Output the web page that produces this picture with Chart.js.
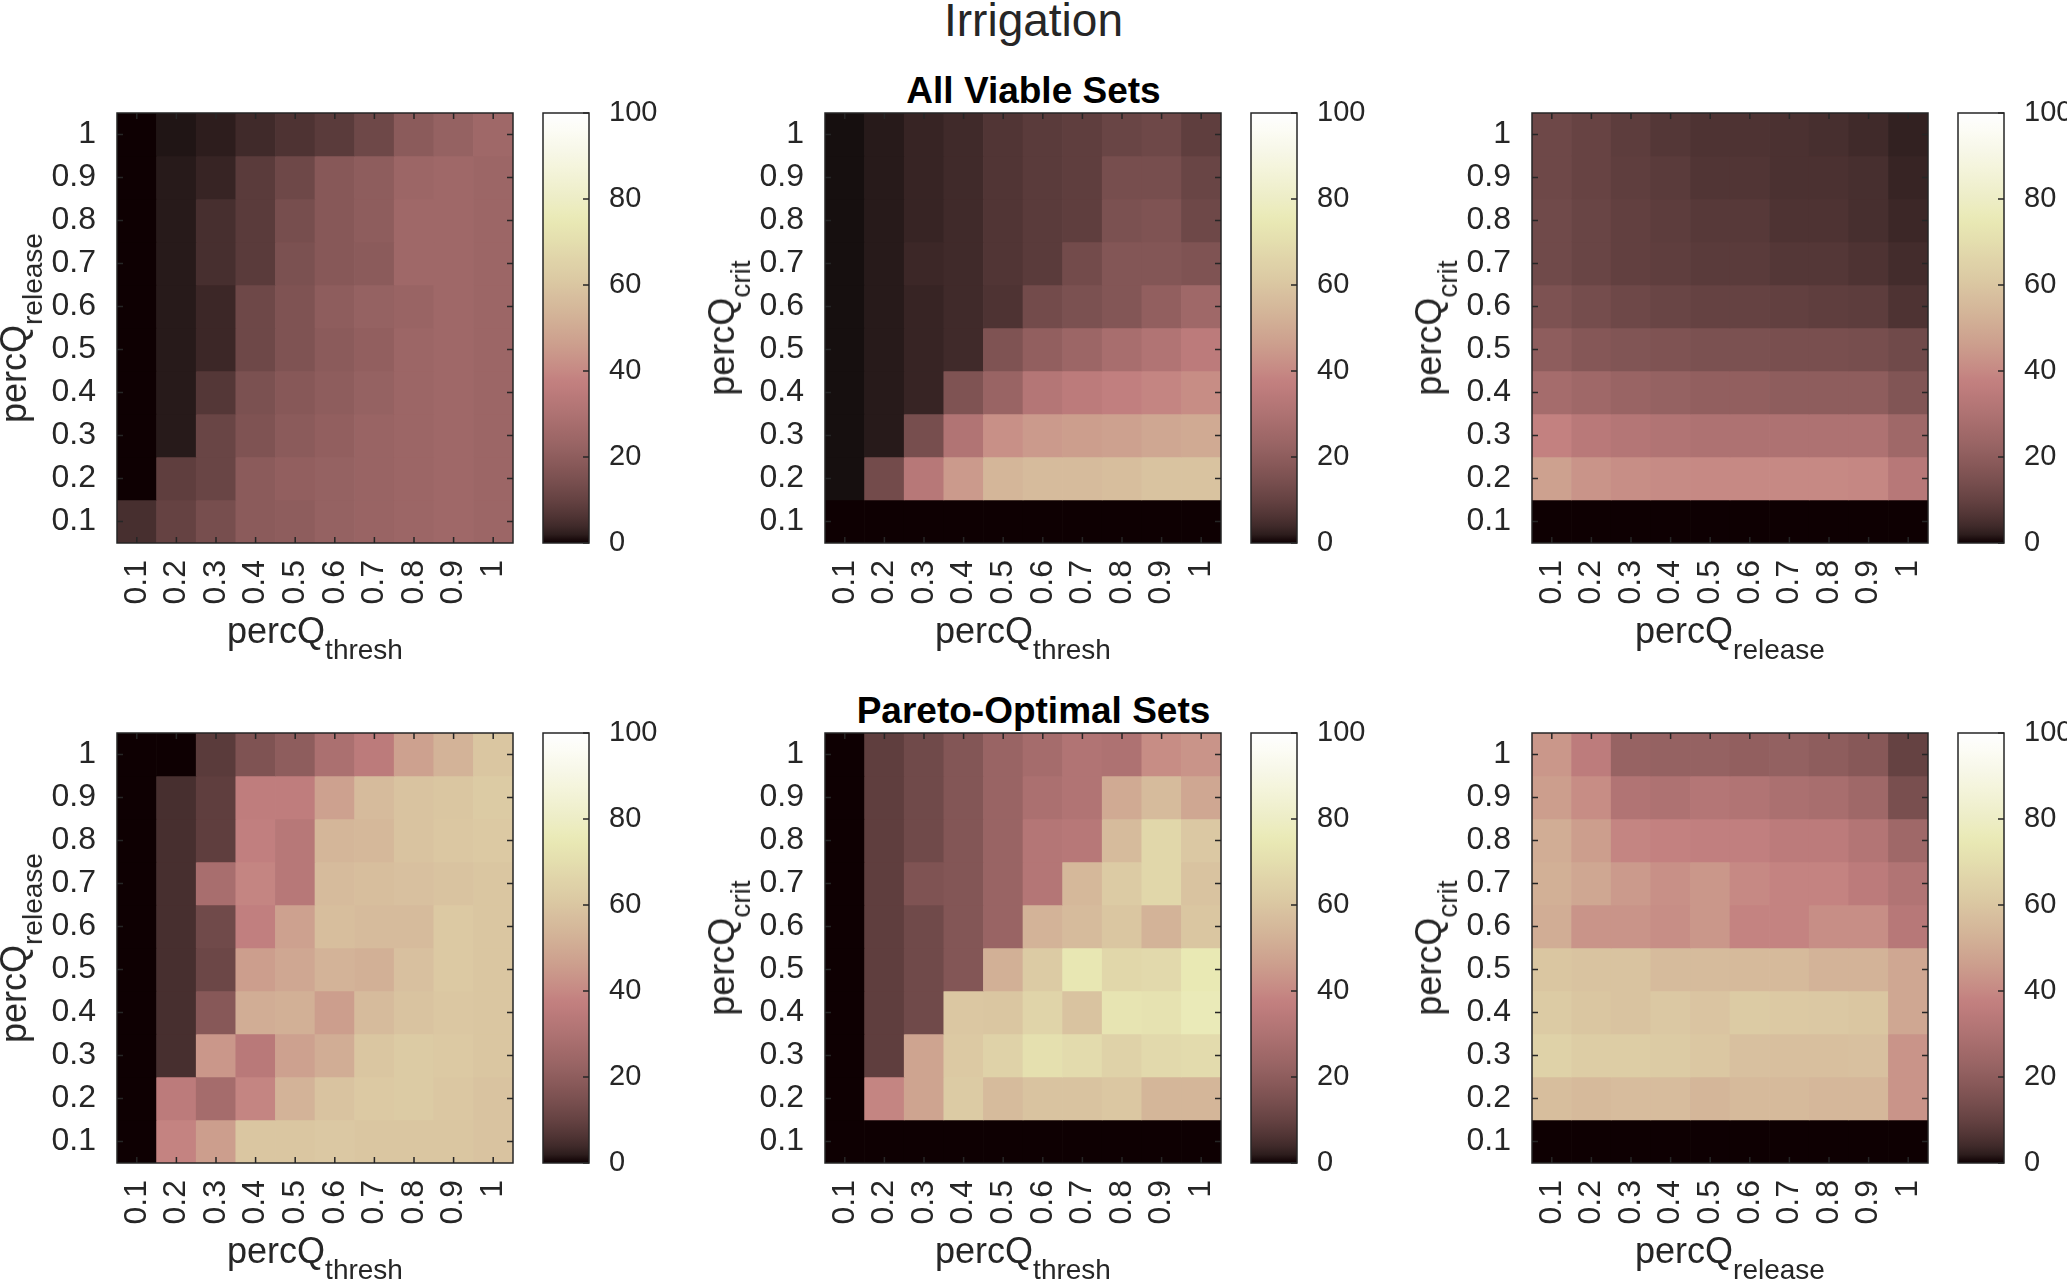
<!DOCTYPE html>
<html>
<head>
<meta charset="utf-8">
<script src="https://cdn.jsdelivr.net/npm/chart.js@4.4.1/dist/chart.umd.min.js"></script>
<style>
  body { margin: 0; background: #fff; }
  #fig { position: relative; width: 2067px; height: 1280px; background: #fff; overflow: hidden;
         font-family: 'Liberation Sans', Arial, Helvetica, sans-serif; }
  canvas { position: absolute; }
  .ttl { position: absolute; left: 0; width: 2067px; text-align: center; white-space: nowrap; }
  .axlabel { position: absolute; font-size: 36px; line-height: 36px; height: 36px; white-space: nowrap;
             color: #262626; }
  .axlabel .sub { font-size: 28px; position: relative; top: 16px; }
</style>
</head>
<body>
<div id="fig">
  <div class="ttl" style="top:-3px;font-size:46px;line-height:46px;color:#262626;">Irrigation</div>
  <div class="ttl" style="top:72px;font-size:37px;line-height:37px;font-weight:bold;color:#000;">All Viable Sets</div>
  <div class="ttl" style="top:692px;font-size:37px;line-height:37px;font-weight:bold;color:#000;">Pareto-Optimal Sets</div>
</div>
<script>
// tick labels shared by every panel
const xLabels = ['0.1', '0.2', '0.3', '0.4', '0.5', '0.6', '0.7', '0.8', '0.9', '1'];
// row order of the matrices below: top row first (y = 1 ... 0.1)
const rowValues = [1, 0.9, 0.8, 0.7, 0.6, 0.5, 0.4, 0.3, 0.2, 0.1];
const colorbarTicks = [0, 20, 40, 60, 80, 100];

// All viable sets (% of sets), rows = percQ_release, cols = percQ_thresh
const viableThreshRelease = [
  [0, 1, 2, 4, 6, 8, 12, 19, 22, 25],
  [0, 1.5, 3, 8, 12, 18, 20, 24, 25, 24],
  [0, 1.5, 5, 8, 14, 18, 20, 25, 25, 24],
  [0, 1.5, 5, 8, 15, 18, 19, 25, 25, 24],
  [0, 1.5, 3.5, 12, 16, 20, 22, 23, 25, 24],
  [0, 1.5, 3.5, 12, 16, 19, 21, 24, 25, 24],
  [0, 1.5, 7, 15, 18, 20, 22, 24, 25, 24],
  [0, 1.5, 11, 16, 19, 21, 23, 24, 25, 24],
  [0, 9, 11, 19, 21, 22, 23, 24, 25, 24],
  [5, 10, 14, 19, 20, 22, 23, 24, 25, 24]
];
// rows = percQ_crit, cols = percQ_thresh
const viableThreshCrit = [
  [0.5, 1.5, 3, 4, 6.5, 8, 9, 11, 12, 9],
  [0.5, 1.5, 3, 4, 6.5, 8, 9, 14, 14, 11],
  [0.5, 1.5, 3, 4, 6.5, 8, 9, 15, 16, 12],
  [0.5, 1.5, 3.5, 4, 6.5, 8, 13, 17, 17, 16],
  [0.5, 1.5, 3, 4, 6, 13, 15, 17, 21, 25],
  [0.5, 1.5, 3, 4, 16, 21, 24, 28, 31, 35],
  [0.5, 1.5, 3, 16, 23, 32, 35, 37, 39, 41],
  [0.5, 1.5, 14, 31, 42, 45, 46, 47, 49, 50],
  [0.5, 13, 33, 45, 54, 56, 56, 57, 59, 59],
  [0, 0, 0, 0, 0, 0, 0, 0, 0, 0]
];
// rows = percQ_crit, cols = percQ_release
const viableReleaseCrit = [
  [12, 10.5, 8.5, 7, 6, 6, 5.5, 5, 4, 2.5],
  [12, 10.5, 9, 8, 6.5, 6.5, 5.5, 5.5, 5, 3],
  [12.5, 11, 9.5, 8.5, 7.5, 7.5, 6, 6, 5, 3.5],
  [12.5, 11, 9.5, 9, 8, 8, 7, 7, 6, 4.5],
  [15.5, 13.5, 12, 11, 10, 10, 9.5, 9, 8.5, 6],
  [20, 17.5, 16.5, 16, 15, 15, 14.5, 14.5, 14, 12.5],
  [27, 25, 23, 22, 21, 21, 20, 20, 20, 16.5],
  [38, 34, 32, 31, 30, 30, 30, 30, 30, 25],
  [47, 43, 41.5, 40.5, 40, 40, 40, 40, 39.5, 33],
  [0, 0, 0, 0, 0, 0, 0, 0, 0, 0]
];

// Pareto-optimal sets
const paretoThreshRelease = [
  [0, 0, 8, 16, 20, 29, 35, 47, 53, 60],
  [0, 5, 9, 36, 36, 47, 56, 59, 60, 62],
  [0, 5, 9, 37, 33, 54, 55, 59, 60.5, 61.5],
  [0, 5, 28, 39, 33, 56, 57, 58, 59, 60],
  [0, 5, 12.5, 37, 47, 57, 56, 56, 61.5, 60],
  [0, 5, 11.5, 46, 49, 53, 52, 58, 61.5, 60],
  [0, 5, 18, 51, 52, 46, 56, 59, 60.5, 60],
  [0, 5, 44, 34, 47, 51, 60, 62, 61.5, 60],
  [0, 35, 27, 39, 53, 59, 61.5, 62, 60.5, 59],
  [0, 38.5, 46, 60, 60, 61, 60, 60, 60, 59]
];
const paretoThreshCrit = [
  [0, 9, 12.5, 17, 23, 27, 31, 30, 41, 43],
  [0, 9, 12.5, 17, 23, 29, 31, 50, 56, 49],
  [0, 9, 12.5, 17, 23, 32, 33, 56, 67, 61],
  [0, 9, 16, 17, 23, 32, 55, 62, 67, 59],
  [0, 9, 12.5, 17, 23, 53, 56, 60, 53, 60],
  [0, 9, 12.5, 17, 52, 62, 74, 67, 68, 75],
  [0, 9, 12.5, 60.5, 60, 66, 59, 73, 72, 76],
  [0, 9, 48, 61.5, 65, 71, 69, 65, 68, 69],
  [0, 39, 48, 62, 56, 59, 59, 60.5, 54, 54],
  [0, 0, 0, 0, 0, 0, 0, 0, 0, 0]
];
const paretoReleaseCrit = [
  [44, 35.5, 22.5, 22, 22, 21, 21.5, 20, 18, 10],
  [46, 41, 31, 30, 32, 31, 29, 28, 25, 14.5],
  [51, 46, 39, 38, 37, 37, 35, 35, 31.5, 25],
  [52, 49, 45, 42, 44, 40, 38.5, 38.5, 35, 31],
  [51, 43, 43, 41.5, 44, 38.5, 38.5, 41.5, 41.5, 33],
  [60, 59, 59, 56, 56, 55.5, 55.5, 53, 53, 49],
  [62, 60, 59, 61, 59.5, 62, 61.5, 61, 60, 49],
  [65, 63, 63, 62, 60.5, 58, 57.5, 57.5, 58, 43],
  [57, 55.5, 56.5, 56.5, 54, 55.5, 55.5, 54.5, 54.5, 43],
  [0, 0, 0, 0, 0, 0, 0, 0, 0, 0]
];

// MATLAB "pink" colormap, v in 0..100
function pink(v) {
  if (v <= 0) return 'rgb(14,0,2)';
  const t = Math.min(1, v / 100);
  const hr = Math.min(1, t / 0.375);
  const hg = Math.max(0, Math.min(1, (t - 0.375) / 0.375));
  const hb = Math.max(0, (t - 0.75) / 0.25);
  const c = h => Math.round(255 * Math.sqrt((2 * t + h) / 3));
  return 'rgb(' + c(hr) + ',' + c(hg) + ',' + c(hb) + ')';
}

const ink = '#262626';
const fam = "'Liberation Sans', Arial, Helvetica, sans-serif";
const tickFont = { family: fam, size: 32 };
const barFont = { family: fam, size: 29 };
const plotW = 396, plotH = 430;

// box + inward tick marks like matlab axes
const boxPlugin = {
  id: 'box',
  afterDatasetsDraw(chart, args, opts) {
    const { ctx, chartArea: a } = chart;
    const len = 6;
    ctx.save();
    ctx.strokeStyle = ink;
    ctx.lineWidth = 1.5;
    ctx.beginPath();
    if (opts.heat) {
      xLabels.forEach((l, i) => {
        const x = chart.scales.x.getPixelForTick(i);
        ctx.moveTo(x, a.bottom); ctx.lineTo(x, a.bottom - len);
        ctx.moveTo(x, a.top); ctx.lineTo(x, a.top + len);
      });
      rowValues.forEach(v => {
        const y = chart.scales.y.getPixelForValue(v);
        ctx.moveTo(a.left, y); ctx.lineTo(a.left + len, y);
        ctx.moveTo(a.right, y); ctx.lineTo(a.right - len, y);
      });
    } else {
      colorbarTicks.forEach(v => {
        const y = chart.scales.y.getPixelForValue(v);
        ctx.moveTo(a.right, y); ctx.lineTo(a.right - len, y);
      });
    }
    ctx.stroke();
    ctx.strokeRect(a.left, a.top, a.right - a.left, a.bottom - a.top);
    ctx.restore();
  }
};

const fig = document.getElementById('fig');

function makeCanvas(left, top, w, h) {
  const cv = document.createElement('canvas');
  cv.width = w; cv.height = h;
  cv.style.left = left + 'px'; cv.style.top = top + 'px';
  cv.style.width = w + 'px'; cv.style.height = h + 'px';
  fig.appendChild(cv);
  return cv.getContext('2d');
}

function addLabel(main, sub, cx, cy, rotated) {
  const d = document.createElement('div');
  d.className = 'axlabel';
  d.innerHTML = main + '<span class="sub">' + sub + '</span>';
  d.style.left = cx + 'px';
  d.style.top = cy + 'px';
  d.style.transform = 'translate(-50%,-50%)' + (rotated ? ' rotate(-90deg)' : '');
  fig.appendChild(d);
}

function heatmap(matrix, plotLeft, plotTop, xSub, ySub) {
  const padL = 112, padT = 6, padR = 6, padB = 72;
  const ctx = makeCanvas(plotLeft - padL, plotTop - padT, padL + plotW + padR, padT + plotH + padB);
  new Chart(ctx, {
    type: 'bar',
    data: {
      labels: xLabels,
      datasets: matrix.map((row, i) => ({
        data: row.map(() => [rowValues[i] - 0.05, rowValues[i] + 0.05]),
        backgroundColor: row.map(v => pink(v)),
        borderWidth: 0,
        barPercentage: 1,
        categoryPercentage: 1
      }))
    },
    options: {
      responsive: false,
      animation: false,
      layout: { padding: { left: 0, top: padT, right: padR, bottom: 0 } },
      plugins: { legend: { display: false }, tooltip: { enabled: false }, box: { heat: true } },
      scales: {
        x: {
          stacked: true,
          grid: { display: false },
          border: { display: false },
          ticks: { color: ink, font: tickFont, minRotation: 90, maxRotation: 90, padding: 9, autoSkip: false },
          afterFit(s) { s.height = padB; s.paddingLeft = 0; s.paddingRight = 0; }
        },
        y: {
          min: 0.05,
          max: 1.05,
          grid: { display: false },
          border: { display: false },
          afterBuildTicks(s) { s.ticks = rowValues.map(v => ({ value: v })); },
          ticks: {
            color: ink, font: tickFont, padding: 13,
            callback: v => (Math.abs(v - 1) < 1e-9 ? '1' : v.toFixed(1))
          },
          afterFit(s) { s.width = padL; s.paddingTop = 0; s.paddingBottom = 0; }
        }
      }
    },
    plugins: [boxPlugin]
  });
  addLabel('percQ', xSub, plotLeft + plotW / 2, plotTop + plotH + 88, false);
  addLabel('percQ', ySub, plotLeft - 103, plotTop + plotH / 2, true);
}

function colorbar(left, plotTop) {
  const padL = 2, padT = 20, padB = 20, barW = 46, axisW = 80;
  const ctx = makeCanvas(left - padL, plotTop - padT, padL + barW + axisW, padT + plotH + padB);
  new Chart(ctx, {
    type: 'bar',
    data: {
      labels: [''],
      datasets: [{
        data: [[colorbarTicks[0], colorbarTicks[colorbarTicks.length - 1]]],
        backgroundColor(c) {
          const a = c.chart.chartArea;
          if (!a) return '#000';
          const g = c.chart.ctx.createLinearGradient(0, a.bottom, 0, a.top);
          for (let v = 0; v <= 100; v += 2) g.addColorStop(v / 100, pink(v));
          return g;
        },
        borderWidth: 0,
        barPercentage: 1,
        categoryPercentage: 1
      }]
    },
    options: {
      responsive: false,
      animation: false,
      layout: { padding: { left: padL, top: padT, right: 0, bottom: padB } },
      plugins: { legend: { display: false }, tooltip: { enabled: false }, box: { heat: false } },
      scales: {
        x: { display: false },
        y: {
          position: 'right',
          min: 0,
          max: 100,
          grid: { display: false },
          border: { display: false },
          ticks: { color: ink, font: barFont, stepSize: 20, padding: 12 },
          afterFit(s) { s.width = axisW; s.paddingTop = 0; s.paddingBottom = 0; }
        }
      }
    },
    plugins: [boxPlugin]
  });
}

const colLefts = [117, 825, 1532];
const rowTops = [113, 733];
const panels = [
  [viableThreshRelease, 0, 0, 'thresh', 'release'],
  [viableThreshCrit, 1, 0, 'thresh', 'crit'],
  [viableReleaseCrit, 2, 0, 'release', 'crit'],
  [paretoThreshRelease, 0, 1, 'thresh', 'release'],
  [paretoThreshCrit, 1, 1, 'thresh', 'crit'],
  [paretoReleaseCrit, 2, 1, 'release', 'crit']
];
panels.forEach(([m, c, r, xs, ys]) => {
  heatmap(m, colLefts[c], rowTops[r], xs, ys);
  colorbar(colLefts[c] + 426, rowTops[r]);
});
</script>
</body>
</html>
